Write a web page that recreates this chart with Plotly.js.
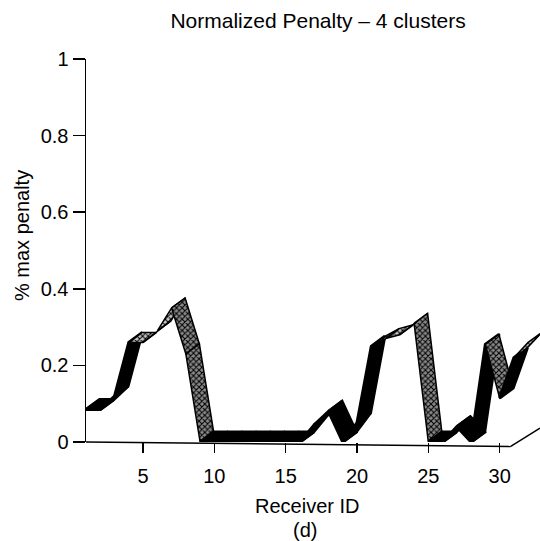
<!DOCTYPE html>
<html><head><meta charset="utf-8">
<script src="https://cdn.plot.ly/plotly-3.0.1.min.js"></script>
<style>html,body{margin:0;padding:0;background:#fff}</style>
</head><body>
<div id="chart" style="width:540px;height:541px"></div>
<script>
// ---- data ----
const receiverId = [1,2,3,4,5,6,7,8,9,10,11,12,13,14,15,16,17,18,19,20,21,22,23,24,25,26,27,28,29,30,31,32];
const penalty = [0.085,0.085,0.12,0.26,0.26,0.29,0.35,0.23,
                 0.0,0.0,0.0,0.0,0.0,0.0,0.0,0.0,
                 0.045,0.08,0.0,0.05,0.25,0.27,0.28,0.31,
                 0.0,0.0,0.04,0.0,0.255,0.115,0.22,0.26];
const xTicks = [5,10,15,20,25,30];
const yTicks = [0,0.2,0.4,0.6,0.8,1];
const yTickText = ['0','0.2','0.4','0.6','0.8','1'];

// ---- ribbon styling (pseudo-3D offset of back edge) ----
const DX = 0.95, DY = 0.026;
const XMIN = 1, XMAX = 32.83;
const traces = [];
for (let i = 0; i < receiverId.length - 1; i++) {
  const x0 = receiverId[i], x1 = receiverId[i+1];
  const y0 = penalty[i], y1 = penalty[i+1];
  const d = y1 - y0;
  let kind = 'dark';
  if (d < -0.05 && y0 > 0.15) kind = 'hatch';
  else if (Math.abs(d) <= 0.06 && Math.min(y0, y1) > 0.15) kind = 'light';
  const t = {
    x: [x0, x1, x1 + DX, x0 + DX, x0],
    y: [y0, y1, y1 + DY, y0 + DY, y0],
    mode: 'lines', fill: 'toself', type: 'scatter',
    line: {color: '#000', width: kind === 'dark' ? 3 : 1.5},
    hoverinfo: 'skip', showlegend: false
  };
  if (kind === 'dark') {
    t.fillcolor = '#000';
  } else {
    t.fillcolor = '#fff';
    t.fillpattern = {shape: 'x', fgcolor: '#000', bgcolor: kind === 'hatch' ? '#8a8a8a' : '#c4c4c4', size: 4, solidity: 0.45};
  }
  traces.push(t);
}

// floor (box edge) decoration in paper coordinates
const FLOOR_END = 30.75, FLOOR_BACK = 0.036;
const px = v => (v - XMIN) / (XMAX - XMIN);
const layout = {
  width: 540, height: 541,
  margin: {l: 86, r: 0, t: 59, b: 99},
  paper_bgcolor: '#fff', plot_bgcolor: '#fff',
  font: {family: '"Liberation Sans", Arial, sans-serif', color: '#000', size: 20},
  title: {text: 'Normalized Penalty – 4 clusters', xref: 'container', x: 0.589, xanchor: 'center', y: 0.961, yanchor: 'middle', font: {size: 21}},
  xaxis: {
    range: [XMIN, XMAX], tickvals: xTicks, ticks: 'outside', ticklen: 10, tickwidth: 1.5, tickcolor: '#000',
    showline: false, showgrid: false, zeroline: false, ticklabelstandoff: 6
  },
  yaxis: {
    range: [0, 1], tickvals: yTicks, ticktext: yTickText, ticks: 'outside', ticklen: 12, tickwidth: 1.5, tickcolor: '#000',
    showline: true, linecolor: '#000', linewidth: 1.5, showgrid: false, zeroline: false
  },
  annotations: [
    {text: 'Receiver ID', xref: 'paper', yref: 'paper', x: (307 - 86) / 454, y: (442 - 506) / 383, xanchor: 'center', yanchor: 'middle', showarrow: false, font: {size: 20}},
    {text: '(d)', xref: 'paper', yref: 'paper', x: (305 - 86) / 454, y: (442 - 530) / 383, xanchor: 'center', yanchor: 'middle', showarrow: false, font: {size: 20}},
    {text: '% max penalty', xref: 'paper', yref: 'paper', x: (22 - 86) / 454, y: (442 - 236) / 383, xanchor: 'center', yanchor: 'middle', textangle: -90, showarrow: false, font: {size: 20}}
  ],
  shapes: [
    {type: 'line', xref: 'paper', yref: 'paper', x0: 0, y0: 0, x1: px(FLOOR_END), y1: -0.012, line: {color: '#000', width: 1.5}, layer: 'above'},
    {type: 'line', xref: 'paper', yref: 'paper', x0: px(FLOOR_END), y0: -0.012, x1: 1, y1: FLOOR_BACK, line: {color: '#000', width: 1.5}, layer: 'above'}
  ]
};
Plotly.newPlot('chart', traces, layout, {staticPlot: true, displayModeBar: false});
</script>
</body></html>
